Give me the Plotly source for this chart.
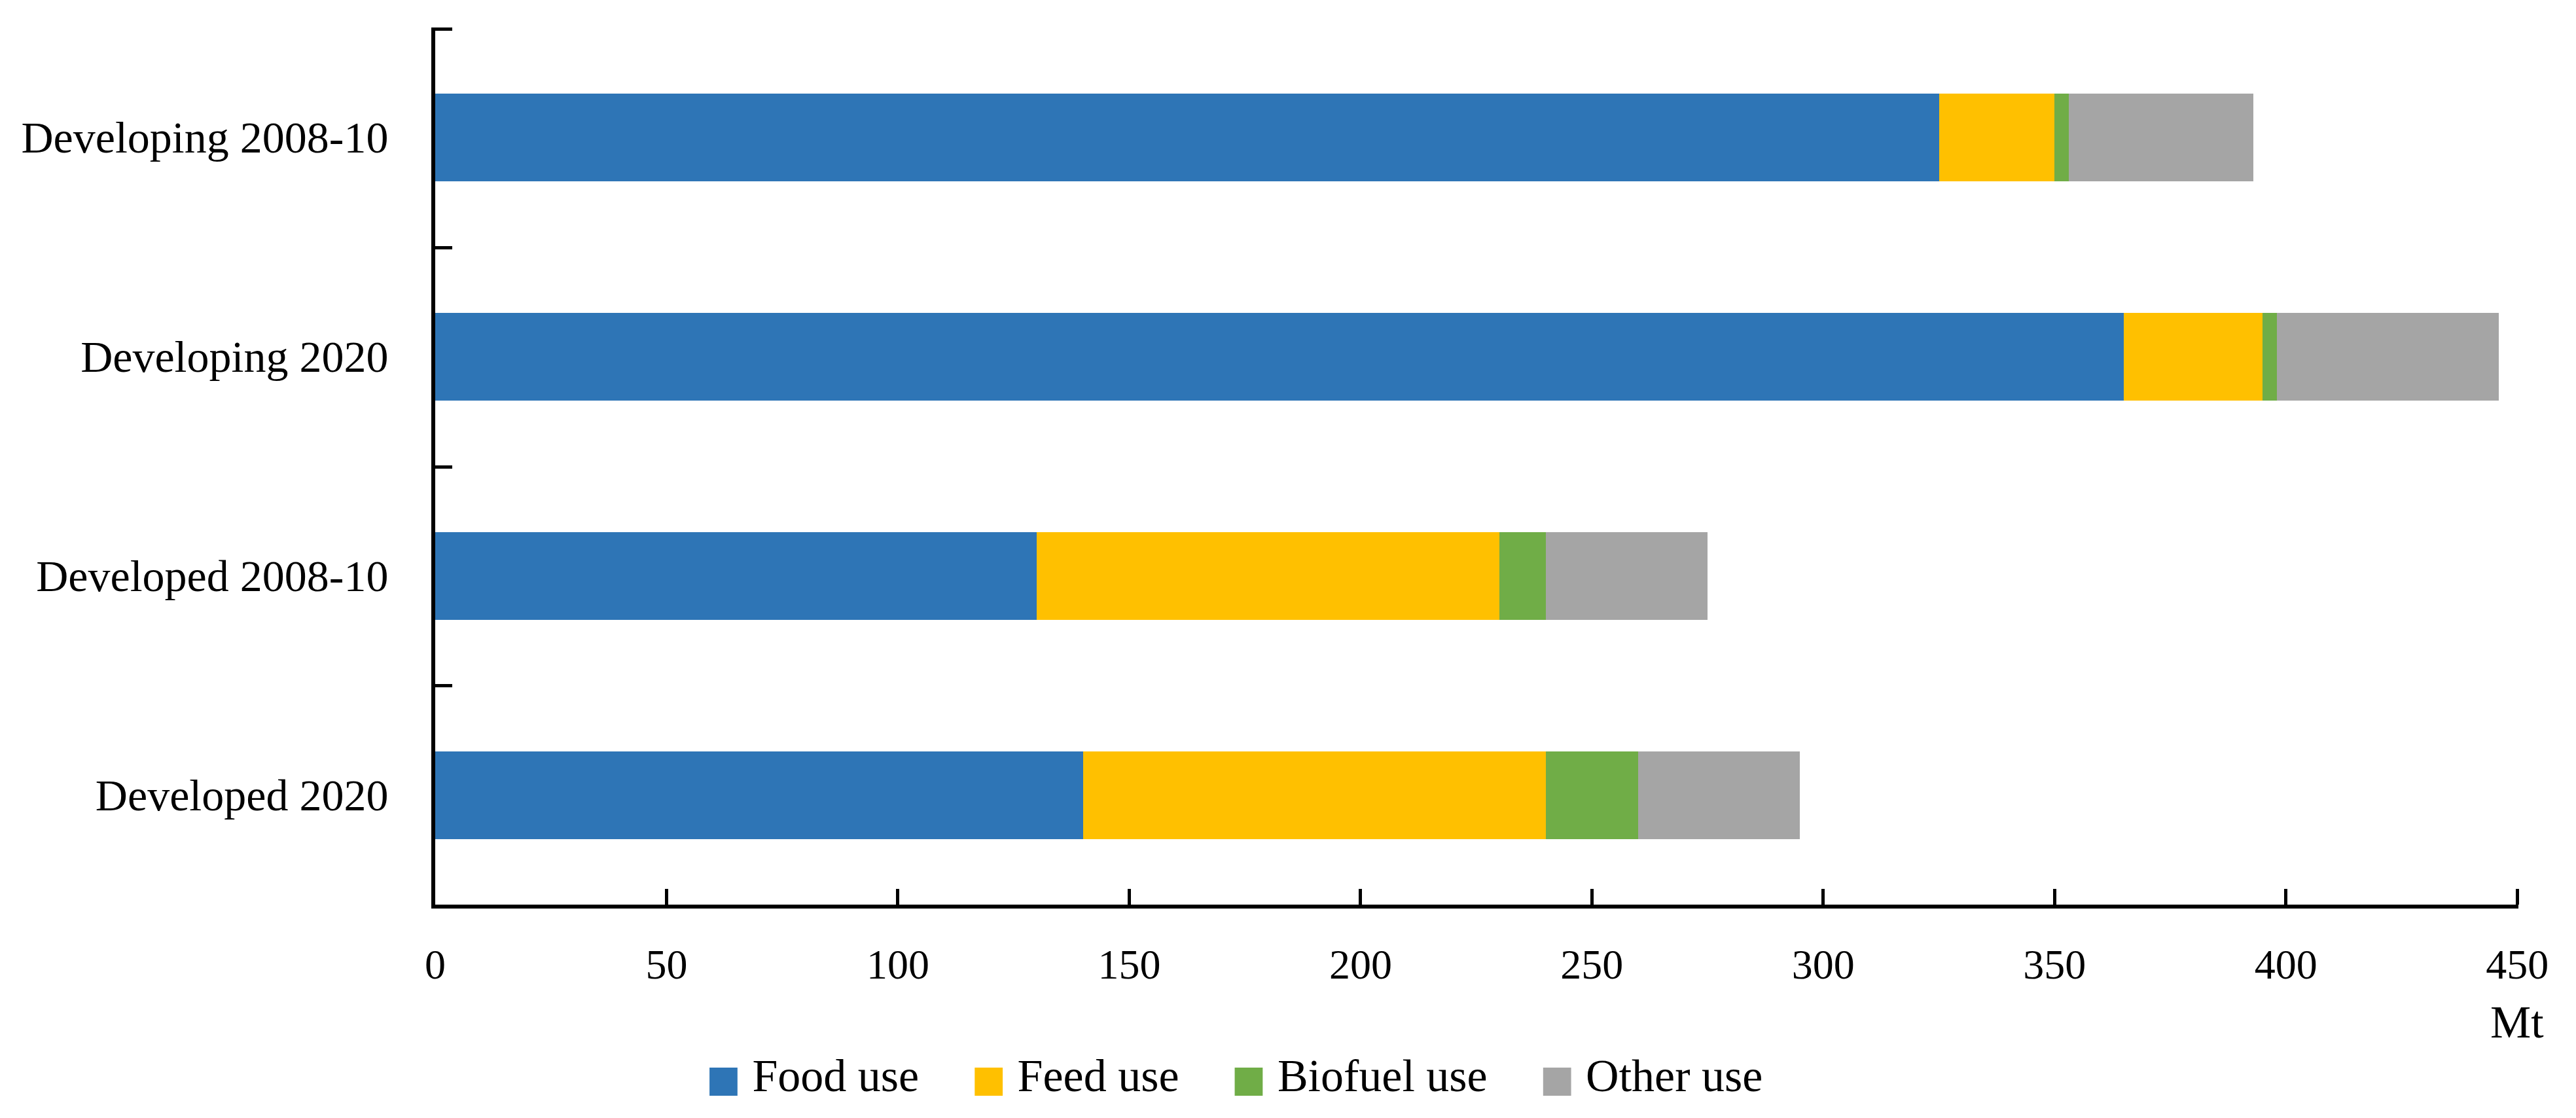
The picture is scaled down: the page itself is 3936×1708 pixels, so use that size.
import plotly.graph_objects as go

categories = ["Developing 2008-10", "Developing 2020", "Developed 2008-10", "Developed 2020"]
food_use = [325, 365, 130, 140]
feed_use = [25, 30, 100, 100]
biofuel_use = [3, 3, 10, 20]
other_use = [40, 48, 35, 35]
x_ticks = [0, 50, 100, 150, 200, 250, 300, 350, 400, 450]
boundary_ticks = [-0.5, 0.5, 1.5, 2.5, 3.5]

series = [
    ("Food use", food_use, "#2E75B6"),
    ("Feed use", feed_use, "#FFC000"),
    ("Biofuel use", biofuel_use, "#70AD47"),
    ("Other use", other_use, "#A5A5A5"),
]

FONT = "Liberation Serif, Times New Roman, serif"

fig = go.Figure()
for name, vals, col in series:
    fig.add_trace(go.Bar(
        y=categories, x=vals, name=name, orientation="h",
        marker=dict(color=col, line=dict(width=0)),
        showlegend=False, legendgroup=name,
    ))
# legend entries: coloured square glyph + label
for name, vals, col in series:
    label = ("<span style='font-family:DejaVu Sans;font-size:56px;color:%s'>\u25A0</span> %s\u00a0\u00a0"
             % (col, name))
    fig.add_trace(go.Scatter(
        x=[None], y=[None], mode="markers", name=label, legendgroup=name,
        marker=dict(size=1, color="rgba(0,0,0,0)"),
        showlegend=True, hoverinfo="skip",
    ))
# carrier for the boundary-tick axis
fig.add_trace(go.Scatter(x=[None], y=[None], yaxis="y2", showlegend=False,
                         hoverinfo="skip", mode="markers"))

fig.update_layout(
    width=3928, height=1700,
    barmode="stack", bargap=0.6,
    paper_bgcolor="white", plot_bgcolor="white",
    margin=dict(l=657, r=88, t=34, b=326),
    font=dict(family=FONT, size=70, color="black"),
    legend=dict(
        orientation="h", x=0.1175, xanchor="left", y=-0.192, yanchor="middle",
        font=dict(family=FONT, size=70, color="black"),
        traceorder="normal", itemwidth=30,
    ),
    showlegend=True,
    yaxis2=dict(
        overlaying="y", anchor="x", side="left", range=[3.5, -0.506],
        tickvals=boundary_ticks, showticklabels=False,
        ticks="inside", ticklen=26, tickwidth=5, tickcolor="black",
        showgrid=False, zeroline=False, showline=False,
    ),
)

fig.update_xaxes(
    range=[0, 450.25], tickvals=x_ticks, ticktext=[str(v) for v in x_ticks],
    showgrid=False, zeroline=False,
    showline=True, linecolor="black", linewidth=6,
    ticks="inside", ticklen=24, tickwidth=5, tickcolor="black",
    tickfont=dict(family=FONT, size=64, color="black"),
    ticklabelstandoff=30,
)
fig.layout.yaxis.update(
    categoryorder="array", categoryarray=categories,
    range=[3.5, -0.5],
    showgrid=False, zeroline=False,
    showline=True, linecolor="black", linewidth=6,
    ticks="",
    tickfont=dict(family=FONT, size=68, color="black"),
    ticklabelstandoff=52,
)

fig.add_annotation(
    x=450, y=-0.134, xref="x", yref="paper", text="Mt", showarrow=False,
    xanchor="center", yanchor="middle",
    font=dict(family=FONT, size=70, color="black"),
)

fig.write_html("out.html")
